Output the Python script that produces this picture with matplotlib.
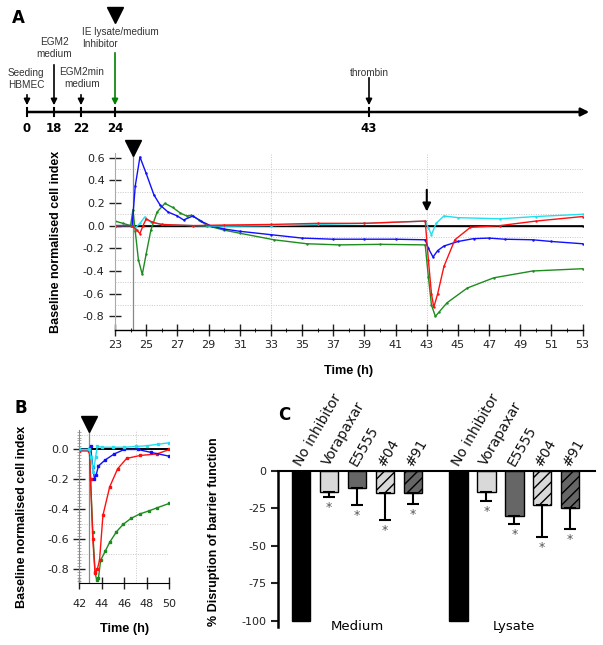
import numpy as np
import matplotlib
matplotlib.use("Agg")
import matplotlib.pyplot as plt
from matplotlib.ticker import MultipleLocator
from matplotlib.transforms import blended_transform_factory

plt.rcParams['axes.unicode_minus'] = False
plt.rcParams['hatch.linewidth'] = 1.0
NARROW = ['Liberation Sans Narrow', 'Liberation Sans', 'DejaVu Sans']

# ---- timeline events (panel A, top) ----
tl_labels = ["0", "18", "22", "24", "43"]
tl_texts = ["Seeding\nHBMEC", "EGM2\nmedium", "EGM2min\nmedium", "IE lysate/medium\nInhibitor", "thrombin"]

# ---- panel A traces (time in h, baseline normalised cell index) ----
a_blue_t = [23, 24.1, 24.3, 24.6, 25.0, 25.5, 25.9, 26.4, 27.0, 27.4, 28.0, 28.5, 29.2, 30, 31, 33, 35, 37, 39, 41, 42.9,
            43.1, 43.4, 43.7, 44.1, 45, 46, 47, 48, 49.8, 51, 53]
a_blue_v = [0.0, 0.0, 0.35, 0.605, 0.46, 0.27, 0.18, 0.12, 0.085, 0.05, 0.085, 0.04, -0.005, -0.03, -0.05, -0.08, -0.11,
            -0.12, -0.12, -0.12, -0.125, -0.2, -0.277, -0.22, -0.18, -0.14, -0.115, -0.11, -0.12, -0.125, -0.14, -0.16]

a_cyan_t = [23, 24.1, 24.3, 24.6, 24.9, 25.3, 26, 28, 30, 33, 36, 39, 42.9, 43.1, 43.3, 43.6, 44.1, 45, 47.7, 50, 53]
a_cyan_v = [0.0, 0.0, -0.02, 0.02, 0.075, 0.03, 0.01, 0.0, -0.005, 0.0, 0.01, 0.02, 0.04, -0.02, -0.08, 0.02, 0.085,
            0.07, 0.06, 0.08, 0.1]

a_red_t = [23, 24.1, 24.4, 24.6, 24.8, 25.0, 25.4, 26, 28, 30, 33, 36, 39, 42.9, 43.1, 43.3, 43.45, 43.7, 44.1, 44.8,
           45.8, 47.7, 50, 53]
a_red_v = [0.0, 0.0, -0.04, -0.07, 0.0, 0.058, 0.03, 0.01, 0.0, 0.005, 0.01, 0.02, 0.02, 0.04, -0.3, -0.6, -0.72, -0.6,
           -0.36, -0.125, -0.015, 0.0, 0.04, 0.08]

a_green_t = [23, 23.5, 24.0, 24.15, 24.3, 24.5, 24.75, 25.0, 25.3, 25.7, 26.2, 26.7, 27.2, 27.6, 27.9, 28.4, 28.9, 30,
             31, 33.2, 35.3, 37.4, 40, 42.9, 43.1, 43.3, 43.55, 43.8, 44.3, 45.6, 47.3, 49.8, 53]
a_green_v = [0.04, 0.02, 0.0, 0.14, -0.05, -0.3, -0.43, -0.25, -0.04, 0.12, 0.196, 0.16, 0.11, 0.085, 0.09, 0.05, 0.0,
             -0.04, -0.067, -0.125, -0.16, -0.17, -0.165, -0.17, -0.45, -0.7, -0.8, -0.76, -0.68, -0.55, -0.46, -0.40,
             -0.38]

a_black_t = [23, 53]
a_black_v = [0.0, 0.0]

# ---- panel B traces ----
b_cyan_t = [42, 42.9, 43.05, 43.25, 43.45, 43.6, 44, 45, 46, 47, 48, 49, 50]
b_cyan_v = [0.0, 0.0, -0.05, -0.15, -0.05, 0.02, 0.015, 0.015, 0.015, 0.02, 0.025, 0.035, 0.045]

b_blue_t = [42, 42.9, 43.0, 43.2, 43.35, 43.5, 43.7, 44.3, 45.1, 46.0, 47.2, 48.4, 50]
b_blue_v = [0.0, 0.0, 0.02, -0.12, -0.195, -0.17, -0.11, -0.07, -0.03, 0.0, 0.0, -0.02, -0.045]

b_red_t = [42, 42.9, 43.0, 43.2, 43.4, 43.6, 43.8, 44.1, 44.7, 45.4, 46.2, 47.4, 48.9, 50]
b_red_v = [-0.01, -0.01, -0.2, -0.6, -0.826, -0.8, -0.74, -0.44, -0.25, -0.13, -0.06, -0.04, -0.03, 0.0]

b_green_t = [42, 42.9, 43.0, 43.2, 43.4, 43.55, 43.7, 43.9, 44.3, 44.7, 45.3, 45.9, 46.6, 47.4, 48.2, 48.9, 50]
b_green_v = [0.0, 0.0, -0.2, -0.55, -0.82, -0.875, -0.86, -0.74, -0.68, -0.62, -0.55, -0.5, -0.46, -0.43, -0.41,
             -0.39, -0.36]

b_black_t = [42, 50]
b_black_v = [0.0, 0.0]

# ---- panel C bars ----
c_names = ["No inhibitor", "Vorapaxar", "E5555", "#04", "#91"]
c_groups = ["Medium", "Lysate"]
c_medium = [-100, -13.8, -11.6, -14.9, -14.4]
c_medium_err = [0, 3.8, 11.1, 17.8, 7.6]
c_lysate = [-100, -14.2, -29.8, -22.7, -24.4]
c_lysate_err = [0, 5.8, 5.8, 21.1, 14.5]
c_signif = [False, True, True, True, True]

fig = plt.figure(figsize=(6.03, 6.45), dpi=100)

# ================= timeline (drawn in pixel space) =================
tl = fig.add_axes([0, 0, 1, 1])
tl.set_xlim(0, 603)
tl.set_ylim(645, 0)
tl.axis('off')
tl_x = [27, 54, 81, 115, 369]           # schematic positions
arrow_top = [92, 62, 92, 50, 75]
line_y = 112
tl.annotate('', xy=(592, line_y), xytext=(25, line_y),
            arrowprops=dict(arrowstyle='-|>', color='black', lw=1.8, mutation_scale=12))
for i, x in enumerate(tl_x):
    tl.plot([x, x], [line_y - 4, line_y + 4], color='black', lw=1.5)
    tl.text(x, line_y + 16, tl_labels[i], ha='center', va='center', fontsize=8.5, fontweight='bold')
    col = 'green' if i == 3 else 'black'
    tl.annotate('', xy=(x, line_y - 4), xytext=(x, arrow_top[i]),
                arrowprops=dict(arrowstyle='-|>', color=col, lw=1.2, mutation_scale=9))
tfont = dict(fontsize=7.2, family=NARROW, color='#333333', linespacing=1.2)
tl.text(tl_x[0] - 1, 90, tl_texts[0], ha='center', va='bottom', **tfont)
tl.text(tl_x[1], 59, tl_texts[1], ha='center', va='bottom', **tfont)
tl.text(tl_x[2] + 1, 89, tl_texts[2], ha='center', va='bottom', **tfont)
tl.text(82, 49, tl_texts[3], ha='left', va='bottom', **tfont)
tl.text(tl_x[4], 78, tl_texts[4], ha='center', va='bottom', **tfont)
tl.plot([tl_x[3]], [15], marker='v', color='black', markersize=12)
tl.text(12, 18, "A", fontsize=12, fontweight='bold', va='center', ha='left')
tl.text(14, 408, "B", fontsize=12, fontweight='bold', va='center', ha='left')
tl.text(278, 415, "C", fontsize=12, fontweight='bold', va='center', ha='left')

# ================= panel A =================
axA = fig.add_axes([0.1907, 0.4884, 0.7756, 0.2744])
axA.set_xlim(23, 53)
axA.set_ylim(-0.92, 0.64)
for y in [-0.7, -0.5, -0.3, -0.1, 0.1, 0.3, 0.5]:
    axA.axhline(y, color='#c8c8c8', lw=0.7, ls=(0, (1, 1.5)), zorder=0)
for x in [33, 43, 53]:
    axA.axvline(x, color='#c8c8c8', lw=0.7, ls=(0, (1, 1.5)), zorder=0)
axA.axvline(24.13, color='#888888', lw=0.9, zorder=1)
axA.axhline(0, color='black', lw=1.2, zorder=2)
kw = dict(lw=1.0, marker='.', markersize=1.5)
axA.plot(a_black_t, a_black_v, color='black', **kw)
axA.plot(a_green_t, a_green_v, color='#1e8c1e', **kw)
axA.plot(a_blue_t, a_blue_v, color='#1010ff', **kw)
axA.plot(a_cyan_t, a_cyan_v, color='#20e0f0', **kw)
axA.plot(a_red_t, a_red_v, color='#ff1010', **kw)
trA = blended_transform_factory(axA.transData, axA.transAxes)
axA.plot([24.13], [1.03], marker='v', color='black', markersize=12, transform=trA, clip_on=False)
axA.annotate('', xy=(43, 0.1), xytext=(43, 0.34),
             arrowprops=dict(arrowstyle='-|>', color='black', lw=1.5, mutation_scale=12))
axA.set_xticks(np.arange(23, 54, 2))
axA.xaxis.set_minor_locator(MultipleLocator(1))
axA.yaxis.set_major_locator(MultipleLocator(0.2))
axA.tick_params(axis='both', which='major', direction='inout', length=8, width=1, labelsize=8, colors='#222222')
axA.tick_params(axis='x', which='minor', direction='inout', length=3, width=0.6)
for s in ['top', 'right']:
    axA.spines[s].set_visible(False)
axA.spines['left'].set_color('#aaaaaa')
axA.spines['bottom'].set_linewidth(1)
axA.set_xlabel("Time (h)", fontsize=9.2, fontweight='bold', family=NARROW)
axA.set_ylabel("Baseline normalised cell index", fontsize=9, fontweight='bold', family=NARROW)
axA.xaxis.set_label_coords(0.5, -0.198)
axA.yaxis.set_label_coords(-0.113, 0.5)

# ================= panel B =================
axB = fig.add_axes([0.1315, 0.0966, 0.1493, 0.2367])
axB.set_xlim(42, 50)
axB.set_ylim(-0.89, 0.13)
for y in [-0.7, -0.5, -0.3, -0.1, 0.1]:
    axB.axhline(y, color='#c8c8c8', lw=0.7, ls=(0, (1, 1.5)), zorder=0)
axB.axvline(47, color='#c8c8c8', lw=0.7, ls=(0, (1, 1.5)), zorder=0)
axB.axvline(42.9, color='#888888', lw=0.9, zorder=1)
axB.axhline(0, color='black', lw=1.2, zorder=2)
kwB = dict(lw=1.0, marker='s', markersize=1.6)
axB.plot(b_black_t, b_black_v, color='black', lw=1.2)
axB.plot(b_green_t, b_green_v, color='#1e8c1e', **kwB)
axB.plot(b_red_t, b_red_v, color='#ff1010', **kwB)
axB.plot(b_blue_t, b_blue_v, color='#1010ff', **kwB)
axB.plot(b_cyan_t, b_cyan_v, color='#20e0f0', **kwB)
trB = blended_transform_factory(axB.transData, axB.transAxes)
axB.plot([42.9], [1.04], marker='v', color='black', markersize=12, transform=trB, clip_on=False)
axB.set_xticks(np.arange(42, 51, 2))
axB.yaxis.set_major_locator(MultipleLocator(0.2))
axB.yaxis.set_minor_locator(MultipleLocator(0.02))
axB.tick_params(axis='both', which='major', direction='inout', length=8, width=1, labelsize=8, colors='#222222')
axB.tick_params(axis='x', which='major', pad=8)
axB.tick_params(axis='y', which='minor', direction='inout', length=2.5, width=0.5, colors='#888888')
for s in ['top', 'right']:
    axB.spines[s].set_visible(False)
axB.spines['left'].set_color('#888888')
axB.set_xlabel("Time (h)", fontsize=9.2, fontweight='bold', family=NARROW)
axB.set_ylabel("Baseline normalised cell index", fontsize=9, fontweight='bold', family=NARROW)
axB.xaxis.set_label_coords(0.5, -0.264)
axB.yaxis.set_label_coords(-0.57, 0.43)

# ================= panel C =================
axC = fig.add_axes([0.4615, 0.0284, 0.5252, 0.2414])
gap = 1.64
pos_med = np.arange(len(c_names))
pos_lys = pos_med + len(c_names) + gap - 1
faces = ['black', '#d9d9d9', '#666666', '#d9d9d9', '#666666']
hatches = [None, None, None, '///', '///']
for pos, vals, errs in [(pos_med, c_medium, c_medium_err), (pos_lys, c_lysate, c_lysate_err)]:
    for i in range(len(c_names)):
        axC.bar(pos[i], vals[i], width=0.66, color=faces[i], edgecolor='black', lw=1, hatch=hatches[i], zorder=2)
        if errs[i] > 0:
            axC.errorbar(pos[i], vals[i], yerr=[[errs[i]], [0]], fmt='none', ecolor='black', elinewidth=1.5,
                         capsize=4, capthick=1.5, zorder=3)
        if c_signif[i]:
            axC.text(pos[i], vals[i] - errs[i] - 7, "*", ha='center', va='center', fontsize=9, color='#555555')
        axC.text(pos[i] - 0.12, 4, c_names[i], rotation=60, rotation_mode='anchor', ha='left', va='center',
                 fontsize=10, color='#111111')
axC.set_xlim(-0.82, 10.53)
axC.set_ylim(-104, 0)
axC.axhline(0, color='black', lw=1.5, clip_on=False, zorder=4)
axC.set_yticks([0, -25, -50, -75, -100])
axC.set_xticks([])
axC.tick_params(axis='y', direction='out', length=5, width=1.5, labelsize=8, colors='#222222')
for s in ['top', 'right', 'bottom']:
    axC.spines[s].set_visible(False)
axC.spines['left'].set_linewidth(1.8)
axC.text(pos_med[2], -104, c_groups[0], ha='center', va='center', fontsize=9.5)
axC.text(pos_lys[2], -104, c_groups[1], ha='center', va='center', fontsize=9.5)
axC.set_ylabel("% Disruption of barrier function", fontsize=9, fontweight='bold', family=NARROW)
axC.yaxis.set_label_coords(-0.184, 0.61)

fig.savefig("out.png", dpi=100)
